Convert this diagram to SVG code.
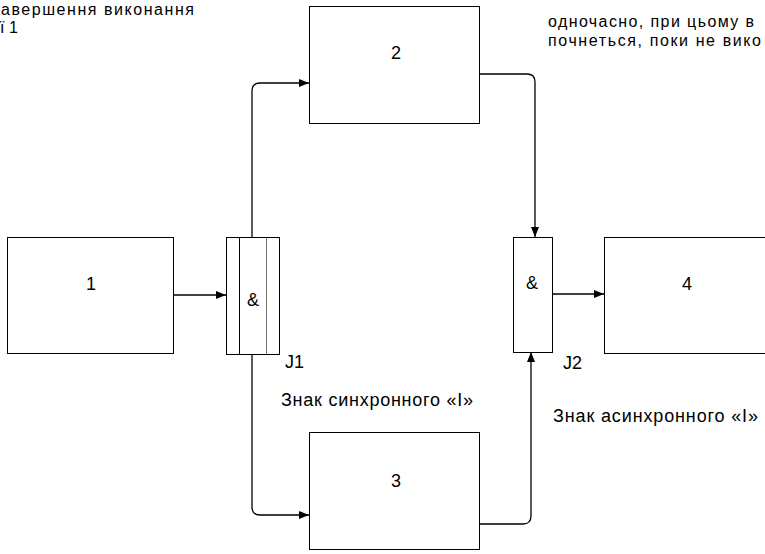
<svg xmlns="http://www.w3.org/2000/svg" width="765" height="554" viewBox="0 0 765 554">
<defs>
<marker id="ah" markerWidth="10" markerHeight="8" refX="10" refY="4" orient="auto" markerUnits="userSpaceOnUse">
<path d="M0,0 L10,4 L0,8 Z" fill="#000"/>
</marker>
<style>
.box{fill:#fff;stroke:#000;stroke-width:1}
.t{font-family:"Liberation Sans",Arial,sans-serif;font-size:18px;fill:#000}
.s{font-size:16px}
.c{fill:none;stroke:#000;stroke-width:1.3}
</style>
</defs>
<rect width="765" height="554" fill="#fff"/>
<g id="connectors">
<path class="c" d="M173,295 L226,295" marker-end="url(#ah)"/>
<path class="c" d="M252,237 L252,91 Q252,83 260,83 L309,83" marker-end="url(#ah)"/>
<path class="c" d="M252,354 L252,507 Q252,515 260,515 L309,515" marker-end="url(#ah)"/>
<path class="c" d="M479,74 L527,74 Q535,74 535,82 L535,237" marker-end="url(#ah)"/>
<path class="c" d="M479,524 L523,524 Q531,524 531,516 L531,352" marker-end="url(#ah)"/>
<path class="c" d="M552,294 L604,294" marker-end="url(#ah)"/>
</g>
<g id="n1"><rect class="box" x="7.5" y="237.5" width="166" height="116"/><text class="t" x="91" y="290" text-anchor="middle">1</text></g>
<g id="n2"><rect class="box" x="309.5" y="6.5" width="170" height="117"/><text class="t" x="396" y="59" text-anchor="middle">2</text></g>
<g id="n3"><rect class="box" x="309.5" y="432.5" width="170" height="117"/><text class="t" x="396" y="487" text-anchor="middle">3</text></g>
<g id="n4"><rect class="box" x="604.5" y="237.5" width="170" height="116"/><text class="t" x="687" y="290" text-anchor="middle">4</text></g>
<g id="j1">
<rect class="box" x="226.5" y="237.5" width="53" height="117"/>
<line x1="239.5" y1="237.5" x2="239.5" y2="354.5" stroke="#000"/>
<line x1="266.5" y1="237.5" x2="266.5" y2="354.5" stroke="#777"/>
<text class="t" x="253" y="306" text-anchor="middle">&amp;</text>
<text class="t" x="285" y="368">J1</text>
</g>
<g id="j2">
<rect class="box" x="513.5" y="237.5" width="39" height="115"/>
<text class="t" x="532" y="289" text-anchor="middle">&amp;</text>
<text class="t" x="563" y="369">J2</text>
</g>
<text class="t" x="281" y="406" textLength="192" lengthAdjust="spacing">Знак синхронного  «І»</text>
<text class="t" x="553" y="422" textLength="205" lengthAdjust="spacing">Знак асинхронного  «І»</text>
<text class="t s" x="1" y="15" textLength="193" lengthAdjust="spacing">авершення виконання</text>
<text class="t s" x="0" y="33">ї 1</text>
<text class="t s" x="548" y="27" textLength="206" lengthAdjust="spacing">одночасно, при цьому в</text>
<text class="t s" x="548" y="46" textLength="213" lengthAdjust="spacing">почнеться, поки не вико</text>
</svg>
